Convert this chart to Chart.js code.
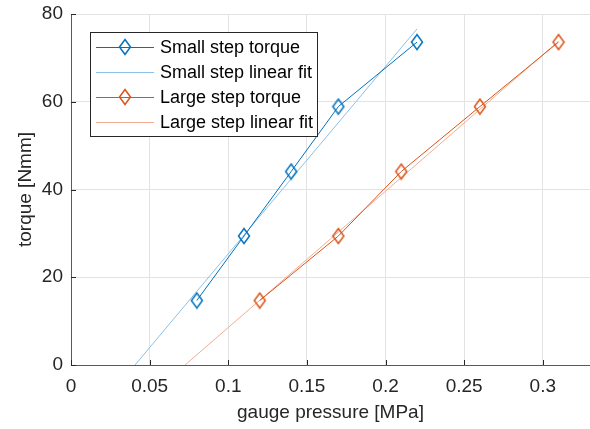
<!DOCTYPE html>
<html lang="en">
  <head>
    <meta charset="UTF-8" />
    <title>Torque vs gauge pressure</title>
    <script src="https://cdn.jsdelivr.net/npm/chart.js"></script>
    <style>
      html, body {
        margin: 0;
        padding: 0;
        background-color: #fff;
      }
      #wrap {
        width: 590px;
        height: 429px;
        position: relative;
      }
    </style>
  </head>
  <body>
    <div id="wrap"><canvas id="torqueChart"></canvas></div>

    <script>
      // data
      const smallPressure = [0.08, 0.11, 0.14, 0.17, 0.22];
      const smallTorque = [14.7, 29.4, 44.1, 58.9, 73.6];
      const largePressure = [0.12, 0.17, 0.21, 0.26, 0.31];
      const largeTorque = [14.7, 29.4, 44.1, 58.9, 73.6];

      // linear fit end points
      const smallFitPressure = [0.0407, 0.22];
      const smallFitTorque = [0, 76.6];
      const largeFitPressure = [0.0725, 0.31];
      const largeFitTorque = [0, 73.8];

      const xTicks = [0, 0.05, 0.1, 0.15, 0.2, 0.25, 0.3];
      const yTicks = [0, 20, 40, 60, 80];

      const BLUE = "#0072BD";
      const BLUE_FIT = "#8DC0E6";
      const ORANGE = "#D95319";
      const ORANGE_FIT = "#F2AE92";
      const AXIS = "#262626";
      const FONT = "'Liberation Sans', Arial, sans-serif";

      function toPoints(xs, ys) {
        return xs.map((x, i) => ({ x: x, y: ys[i] }));
      }

      // MATLAB style diamond, a bit taller than wide
      function diamond(color) {
        const c = document.createElement("canvas");
        c.width = 14;
        c.height = 18;
        const ctx = c.getContext("2d");
        ctx.strokeStyle = color;
        ctx.lineWidth = 1.5;
        ctx.beginPath();
        ctx.moveTo(7, 1.5);
        ctx.lineTo(12.5, 9);
        ctx.lineTo(7, 16.5);
        ctx.lineTo(1.5, 9);
        ctx.closePath();
        ctx.stroke();
        return c;
      }
      const blueDiamond = diamond(BLUE);
      const orangeDiamond = diamond(ORANGE);

      // legend box inside the axes, like MATLAB's northwest legend
      const boxLegend = {
        id: "boxLegend",
        afterDraw(chart) {
          const ctx = chart.ctx;
          const x0 = 90.5, y0 = 32.5, w = 227, h = 104;
          ctx.save();
          ctx.fillStyle = "#fff";
          ctx.fillRect(x0, y0, w, h);
          ctx.strokeStyle = AXIS;
          ctx.lineWidth = 1;
          ctx.strokeRect(x0, y0, w, h);
          ctx.font = "18px " + FONT;
          ctx.textBaseline = "middle";
          chart.data.datasets.forEach((ds, i) => {
            const y = 47 + i * 25;
            ctx.strokeStyle = ds.borderColor;
            ctx.lineWidth = 1;
            ctx.beginPath();
            ctx.moveTo(96, y + 0.5);
            ctx.lineTo(154, y + 0.5);
            ctx.stroke();
            if (ds.pointStyle instanceof HTMLCanvasElement) {
              ctx.drawImage(ds.pointStyle, 125 - 7, y - 9);
            }
            ctx.fillStyle = "#000";
            ctx.fillText(ds.label, 160, y + 1);
          });
          ctx.restore();
        },
      };

      // inward tick marks
      const innerTicks = {
        id: "innerTicks",
        afterDatasetsDraw(chart) {
          const ctx = chart.ctx;
          const xs = chart.scales.x, ys = chart.scales.y;
          const area = chart.chartArea;
          ctx.save();
          ctx.strokeStyle = AXIS;
          ctx.lineWidth = 1;
          ctx.beginPath();
          xs.ticks.forEach((t) => {
            const px = Math.round(xs.getPixelForValue(t.value)) + 0.5;
            ctx.moveTo(px, area.bottom);
            ctx.lineTo(px, area.bottom - 5);
          });
          ys.ticks.forEach((t) => {
            const py = Math.round(ys.getPixelForValue(t.value)) + 0.5;
            ctx.moveTo(area.left, py);
            ctx.lineTo(area.left + 5, py);
          });
          ctx.stroke();
          ctx.restore();
        },
      };

      function noPad(s) {
        s.paddingTop = 0;
        s.paddingBottom = 0;
        s.paddingLeft = 0;
        s.paddingRight = 0;
      }

      new Chart(document.getElementById("torqueChart"), {
        type: "line",
        data: {
          datasets: [
            {
              label: "Small step torque",
              data: toPoints(smallPressure, smallTorque),
              borderColor: BLUE,
              borderWidth: 1,
              pointStyle: blueDiamond,
              order: 1,
            },
            {
              label: "Small step linear fit",
              data: toPoints(smallFitPressure, smallFitTorque),
              borderColor: BLUE_FIT,
              borderWidth: 1,
              pointRadius: 0,
              order: 2,
            },
            {
              label: "Large step torque",
              data: toPoints(largePressure, largeTorque),
              borderColor: ORANGE,
              borderWidth: 1,
              pointStyle: orangeDiamond,
              order: 3,
            },
            {
              label: "Large step linear fit",
              data: toPoints(largeFitPressure, largeFitTorque),
              borderColor: ORANGE_FIT,
              borderWidth: 1,
              pointRadius: 0,
              order: 4,
            },
          ],
        },
        options: {
          responsive: true,
          maintainAspectRatio: false,
          animation: false,
          parsing: false,
          layout: { autoPadding: false, padding: { top: 14, right: 0, left: 0, bottom: 0 } },
          elements: { line: { tension: 0, fill: false } },
          plugins: {
            legend: { display: false },
            tooltip: { enabled: false },
          },
          scales: {
            x: {
              type: "linear",
              min: 0,
              max: 0.33,
              afterBuildTicks: (s) => { s.ticks = xTicks.map((v) => ({ value: v })); },
              afterFit: (s) => { s.height = 64; noPad(s); },
              grid: { color: "#e3e3e3", drawTicks: false },
              border: { color: "#5a5a5a", width: 1 },
              ticks: {
                padding: 10,
                color: AXIS,
                font: { family: FONT, size: 19, lineHeight: 1.2 },
                maxRotation: 0,
                callback: (v) => String(v),
              },
              title: {
                display: true,
                text: "gauge pressure [MPa]",
                color: AXIS,
                font: { family: FONT, size: 19, lineHeight: 1.2 },
                padding: { top: 5, bottom: 5 },
              },
            },
            y: {
              type: "linear",
              min: 0,
              max: 80,
              afterBuildTicks: (s) => { s.ticks = yTicks.map((v) => ({ value: v })); },
              afterFit: (s) => { s.width = 71; noPad(s); },
              grid: { color: "#e3e3e3", drawTicks: false },
              border: { color: "#5a5a5a", width: 1 },
              ticks: {
                padding: 8,
                color: AXIS,
                font: { family: FONT, size: 19, lineHeight: 1.2 },
              },
              title: {
                display: true,
                text: "torque [Nmm]",
                color: AXIS,
                font: { family: FONT, size: 19, lineHeight: 1.2 },
                padding: { top: 14, bottom: 0 },
              },
            },
          },
        },
        plugins: [innerTicks, boxLegend],
      });
    </script>
  </body>
</html>
